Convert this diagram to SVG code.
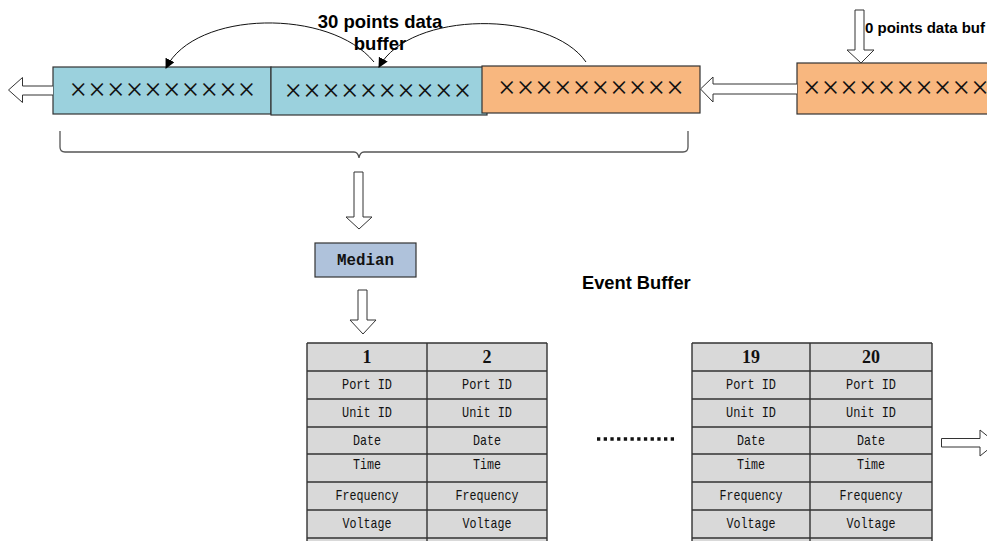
<svg xmlns="http://www.w3.org/2000/svg" width="987" height="541" viewBox="0 0 987 541">
<defs>
<style>
.box{stroke:#333;stroke-width:1.2}
.blue{fill:#9bd1dd}
.orange{fill:#f8b77f}
.x{font-family:"Liberation Serif","Times New Roman",serif;font-size:31px;fill:#111;text-anchor:middle}
.lbl{font-family:"Liberation Sans",Arial,sans-serif;font-weight:bold;fill:#000}
.hollow{fill:#fff;stroke:#333;stroke-width:1}
.curve{fill:none;stroke:#111;stroke-width:1;marker-end:url(#ah)}
.cell{fill:#d9d9d9}
.grid{stroke:#333;stroke-width:1.4;fill:none}
.mono{font-family:"Liberation Mono","Courier New",monospace;font-size:15px;fill:#111;text-anchor:middle}
.num{font-family:"Liberation Serif","Times New Roman",serif;font-size:18px;font-weight:bold;fill:#111;text-anchor:middle}
</style>
<marker id="ah" viewBox="0 0 10 10" refX="9" refY="5" markerWidth="10" markerHeight="10" markerUnits="userSpaceOnUse" orient="auto">
<path d="M0,0 L10,5 L0,10 z" fill="#000"/>
</marker>
</defs>
<rect width="987" height="541" fill="#fff"/>

<g id="label-top-right">
<text class="lbl" x="865" y="33" font-size="15">0 points data buf</text>
</g>

<g id="buffer1">
<rect class="box blue" x="53" y="67" width="218" height="47"/>
<text class="x" x="78.3 97 115.7 134.4 153.1 171.8 190.5 209.2 227.9 246.6" y="100">××××××××××</text>
</g>
<g id="buffer2">
<rect class="box blue" x="271" y="67" width="216" height="48"/>
<text class="x" x="293.3 312.1 330.9 349.7 368.5 387.3 406.1 424.9 443.7 462.5" y="100.5">××××××××××</text>
</g>
<g id="buffer3">
<rect class="box orange" x="482" y="66" width="218" height="47"/>
<text class="x" x="506.7 525.4 544.1 562.8 581.5 600.2 618.9 637.6 656.3 675" y="98">××××××××××</text>
</g>
<g id="buffer4">
<rect class="box orange" x="797" y="63" width="200" height="51"/>
<text class="x" x="811.7 830.4 849.1 867.8 886.5 905.2 923.9 942.6 961.3 980" y="98">××××××××××</text>
</g>

<g id="label-30">
<text class="lbl" x="380" y="28" font-size="18.5" text-anchor="middle">30 points data</text>
<text class="lbl" x="380" y="50" font-size="18.5" text-anchor="middle">buffer</text>
</g>

<g id="median">
<rect class="box" fill="#afc2db" x="315" y="243" width="101" height="34"/>
<text x="365.5" y="265" font-family="'Liberation Mono','Courier New',monospace" font-size="16.5" font-weight="bold" fill="#111" text-anchor="middle" textLength="57" lengthAdjust="spacingAndGlyphs">Median</text>
</g>

<g id="event-buffer-label">
<text class="lbl" x="582" y="289" font-size="18.3">Event Buffer</text>
</g>

<g id="table1">
<rect class="cell" x="307" y="343" width="240" height="200"/>
<path class="grid" d="M307,343 H547 M307,371 H547 M307,399 H547 M307,427 H547 M307,454 H547 M307,482 H547 M307,510 H547 M307,538 H547 M307,343 V545 M427,343 V545 M547,343 V545"/>
<text class="num" x="367" y="363">1</text>
<text class="num" x="487" y="363">2</text>
<text class="mono" x="367" y="389" textLength="50" lengthAdjust="spacingAndGlyphs">Port ID</text>
<text class="mono" x="487" y="389" textLength="50" lengthAdjust="spacingAndGlyphs">Port ID</text>
<text class="mono" x="367" y="417" textLength="50" lengthAdjust="spacingAndGlyphs">Unit ID</text>
<text class="mono" x="487" y="417" textLength="50" lengthAdjust="spacingAndGlyphs">Unit ID</text>
<text class="mono" x="367" y="444.5" textLength="28" lengthAdjust="spacingAndGlyphs">Date</text>
<text class="mono" x="487" y="444.5" textLength="28" lengthAdjust="spacingAndGlyphs">Date</text>
<text class="mono" x="367" y="468.5" textLength="28" lengthAdjust="spacingAndGlyphs">Time</text>
<text class="mono" x="487" y="468.5" textLength="28" lengthAdjust="spacingAndGlyphs">Time</text>
<text class="mono" x="367" y="500" textLength="63" lengthAdjust="spacingAndGlyphs">Frequency</text>
<text class="mono" x="487" y="500" textLength="63" lengthAdjust="spacingAndGlyphs">Frequency</text>
<text class="mono" x="367" y="528" textLength="49" lengthAdjust="spacingAndGlyphs">Voltage</text>
<text class="mono" x="487" y="528" textLength="49" lengthAdjust="spacingAndGlyphs">Voltage</text>
</g>

<g id="table2">
<rect class="cell" x="692" y="343" width="240" height="200"/>
<path class="grid" d="M692,343 H932 M692,371 H932 M692,399 H932 M692,427 H932 M692,454 H932 M692,482 H932 M692,510 H932 M692,538 H932 M692,343 V545 M810,343 V545 M932,343 V545"/>
<text class="num" x="751" y="363">19</text>
<text class="num" x="871" y="363">20</text>
<text class="mono" x="751" y="389" textLength="50" lengthAdjust="spacingAndGlyphs">Port ID</text>
<text class="mono" x="871" y="389" textLength="50" lengthAdjust="spacingAndGlyphs">Port ID</text>
<text class="mono" x="751" y="417" textLength="50" lengthAdjust="spacingAndGlyphs">Unit ID</text>
<text class="mono" x="871" y="417" textLength="50" lengthAdjust="spacingAndGlyphs">Unit ID</text>
<text class="mono" x="751" y="444.5" textLength="28" lengthAdjust="spacingAndGlyphs">Date</text>
<text class="mono" x="871" y="444.5" textLength="28" lengthAdjust="spacingAndGlyphs">Date</text>
<text class="mono" x="751" y="468.5" textLength="28" lengthAdjust="spacingAndGlyphs">Time</text>
<text class="mono" x="871" y="468.5" textLength="28" lengthAdjust="spacingAndGlyphs">Time</text>
<text class="mono" x="751" y="500" textLength="63" lengthAdjust="spacingAndGlyphs">Frequency</text>
<text class="mono" x="871" y="500" textLength="63" lengthAdjust="spacingAndGlyphs">Frequency</text>
<text class="mono" x="751" y="528" textLength="49" lengthAdjust="spacingAndGlyphs">Voltage</text>
<text class="mono" x="871" y="528" textLength="49" lengthAdjust="spacingAndGlyphs">Voltage</text>
</g>

<g id="connectors">
<path class="curve" d="M374,62 C330,8 195,10 166,68"/>
<path class="curve" d="M586,62 C550,10 410,10 379,67"/>
<path class="hollow" d="M53,86 H22.5 V77.5 L8.5,90 L22.5,102.5 V95 H53"/>
<path class="hollow" d="M797,84 H713 V77 L700.5,89 L713,102 V94 H797"/>
<path class="hollow" d="M855,10 H864 V50 H874 L861,63 L847,50 H855 Z"/>
<path d="M60,131 V147 Q60,152 65,152 H354 Q358,152 359,158 Q360,152 364,152 H683 Q688,152 688,147 V131" fill="none" stroke="#555" stroke-width="1.3"/>
<path class="hollow" d="M354,172 H363 V217 H372 L359,229 L346,217 H354 Z"/>
<path class="hollow" d="M358,290 H367 V320 H376 L363,334 L350,320 H358 Z"/>
<path class="hollow" d="M941.5,438.5 H980 V430 L996,443 L980,456 V447 H941.5 Z"/>
<line x1="597" y1="439" x2="677" y2="439" stroke="#111" stroke-width="3.3" stroke-dasharray="3.3 3.4"/>
</g>
</svg>
